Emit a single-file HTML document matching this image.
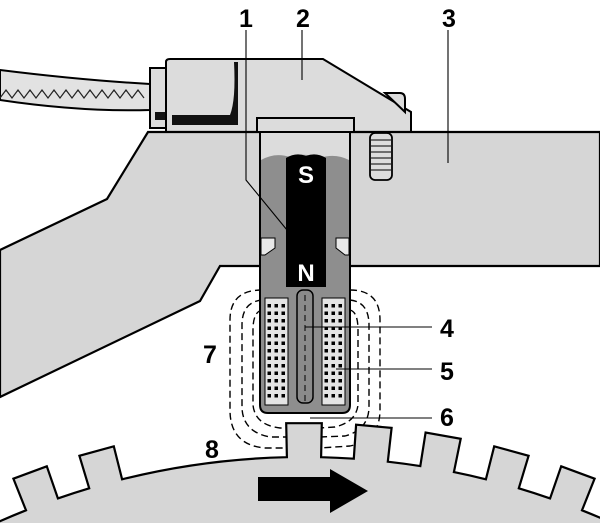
<!DOCTYPE html>
<html><head><meta charset="utf-8"><style>
html,body{margin:0;padding:0;background:#fff;width:600px;height:523px;overflow:hidden}
svg{display:block}
text{font-family:"Liberation Sans",sans-serif;font-weight:bold}
</style></head><body>
<svg id="s" width="600" height="523" viewBox="0 0 600 523" xmlns="http://www.w3.org/2000/svg" overflow="hidden">
<!-- cable -->
<path d="M0,70 Q80,80 150,84 L150,110 Q80,112 0,100 Z" fill="#e2e2e2" stroke="#000" stroke-width="2"/>
<path d="M0,98 l6,-8 l6,8 l6,-8 l6,8 l6,-8 l6,8 l6,-8 l6,8 l6,-8 l6,8 l6,-8 l6,8 l6,-8 l6,8 l6,-8 l6,8 l6,-8 l6,8 l6,-8 l6,8 l6,-8 l6,8 l6,-8 l6,8" fill="none" stroke="#222" stroke-width="1.2"/>
<rect x="150" y="68" width="17" height="60" fill="#ddd" stroke="#000" stroke-width="2"/>
<rect x="155" y="112" width="10" height="8" fill="#111"/>
<!-- connector -->
<path d="M166,62 Q166,59 170,59 L323,59 L411,112 L411,132 L166,132 Z" fill="#dcdcdc" stroke="#000" stroke-width="2"/>
<path d="M385,93 L400,93 Q405,93 405,99 L405,112 Z" fill="#dcdcdc" stroke="#000" stroke-width="2"/>
<path d="M172,115 L230,115 Q236,100 234,62 L238,62 L238,125 L172,125 Z" fill="#111"/>
<!-- housing block -->
<path d="M148,132 L600,132 L600,266 L220,266 L200,301 L0,397 L0,250 L107,199 Z" fill="#d6d6d6" stroke="#000" stroke-width="2.2"/>
<!-- screw -->
<rect x="370" y="133" width="22" height="47" rx="5" fill="#ddd" stroke="#000" stroke-width="1.8"/>
<g stroke="#000" stroke-width="1"><line x1="371" y1="140" x2="391" y2="140"/><line x1="371" y1="146" x2="391" y2="146"/><line x1="371" y1="152" x2="391" y2="152"/><line x1="371" y1="158" x2="391" y2="158"/><line x1="371" y1="164" x2="391" y2="164"/><line x1="371" y1="170" x2="391" y2="170"/></g>
<!-- field lines -->
<g fill="none" stroke="#000" stroke-width="1.4" stroke-dasharray="7,4">
<path d="M262,290 Q230,290 230,320 L230,410 Q230,445 265,448 L290,448"/>
<path d="M262,300 Q242,302 242,325 L242,408 Q243,432 270,437 L290,437"/>
<path d="M262,310 Q253,312 253,330 L253,405 Q255,425 280,428 L290,428"/>
<path d="M350,290 Q380,290 380,320 L380,410 Q380,440 350,446 L320,448"/>
<path d="M350,300 Q369,302 369,325 L369,408 Q368,430 345,436 L320,437"/>
<path d="M350,310 Q358,312 358,330 L358,405 Q356,422 335,427 L320,428"/>
</g>
<!-- sensor cap -->
<rect x="257" y="118" width="97" height="14" fill="#dcdcdc" stroke="#000" stroke-width="2"/>
<!-- sensor body -->
<path d="M260,132 L350,132 L350,405 Q350,413 342,413 L268,413 Q260,413 260,405 Z" fill="#8e8e8e" stroke="#000" stroke-width="2"/>
<path d="M261,133 L349,133 L349,160 Q335,153 320,158 Q305,152 290,157 Q275,152 261,160 Z" fill="#dcdcdc"/>
<path d="M286,158 Q296,152 306,156 Q316,152 326,158 L326,287 L286,287 Z" fill="#000"/>
<path d="M261,238 L275,238 L275,248 L265,255 L261,255 Z" fill="#e8e8e8" stroke="#000" stroke-width="1"/>
<path d="M349,238 L336,238 L336,248 L345,255 L349,255 Z" fill="#e8e8e8" stroke="#000" stroke-width="1"/>
<text x="306" y="183" font-size="24" fill="#fff" text-anchor="middle">S</text>
<text x="306" y="281" font-size="24" fill="#fff" text-anchor="middle">N</text>
<rect x="265" y="298" width="23" height="107" fill="#e4e4e4" stroke="#000" stroke-width="1"/>
<rect x="322" y="298" width="23" height="107" fill="#e4e4e4" stroke="#000" stroke-width="1"/>
<rect x="297" y="290" width="16" height="113" rx="6" fill="#8a8a8a" stroke="#000" stroke-width="1.5"/>
<line x1="305" y1="295" x2="305" y2="405" stroke="#000" stroke-width="1" stroke-dasharray="6,4"/>
<g id="dots" fill="#000"></g>
<!-- gear -->
<path id="gear" fill="#d6d6d6" stroke="#000" stroke-width="2.2"/>
<path d="M258,477 L330,477 L330,469 L368,491 L330,513 L330,501 L258,501 Z" fill="#000"/>
<!-- leader lines -->
<g stroke="#000" stroke-width="1.1" fill="none">
<path d="M246,30 L246,180 L287,230"/>
<line x1="302" y1="30" x2="302" y2="80"/>
<line x1="448" y1="30" x2="448" y2="163"/>
<line x1="305" y1="327" x2="432" y2="327"/>
<line x1="336" y1="369" x2="432" y2="369"/>
<line x1="310" y1="418" x2="432" y2="418"/>
</g>
<g font-size="25" fill="#000" text-anchor="middle">
<text x="246" y="27">1</text><text x="303" y="27">2</text><text x="449" y="27">3</text>
<text x="447" y="337">4</text><text x="447" y="380">5</text><text x="447" y="426">6</text>
<text x="210" y="363">7</text><text x="212" y="458">8</text>
</g>
</svg>
<script>
(function(){
var g=document.getElementById('dots'),h='';
[[269,276,283],[326,333,340]].forEach(function(cols){
 for(var r=0;r<13;r++){cols.forEach(function(x){h+='<rect x="'+(x-1.5)+'" y="'+(304+r*7.5)+'" width="3.5" height="3.5"/>';});}
});
g.innerHTML=h;
var cx=304,cy=1209,R=752,D=34,p=1.3*Math.PI/180,pitch=5.1*Math.PI/180;
var teeth=[-6,-5,-4,-3,0,1,2,3,4,5,6,7];
function pt(a,r){return (cx+r*Math.sin(a)).toFixed(1)+','+(cy-r*Math.cos(a)).toFixed(1);}
var a0=-0.6,a1=0.6,d='M'+pt(a0,R);
teeth.forEach(function(k){var a=k*pitch;
 d+=' A'+R+','+R+' 0 0 1 '+pt(a-p,R)+' L'+pt(a-p,R+D)+' L'+pt(a+p,R+D)+' L'+pt(a+p,R);});
d+=' A'+R+','+R+' 0 0 1 '+pt(a1,R)+' L'+pt(a1,R-60)+' L'+pt(a0,R-60)+' Z';
document.getElementById('gear').setAttribute('d',d);
})();
</script>
</body></html>
